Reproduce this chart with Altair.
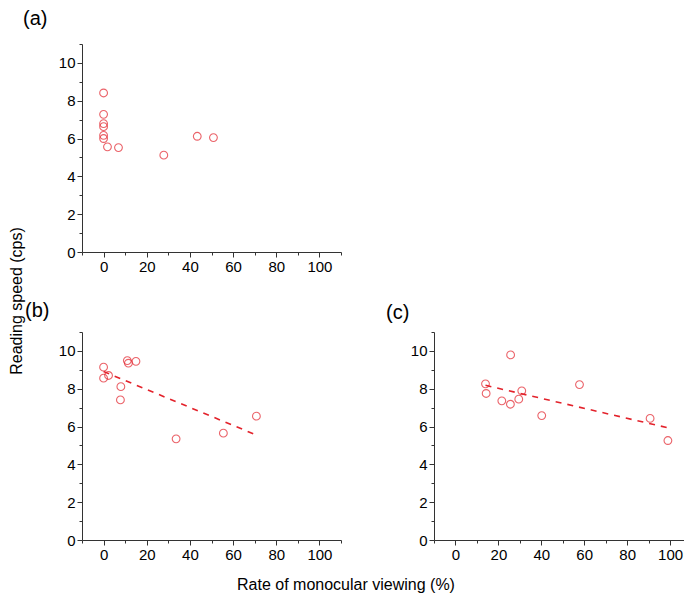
import altair as alt
import pandas as pd

RED = "#e3222b"
FONT = "Liberation Sans"

# Panel (a)
a_x = [0, 0, 0, 0, 0, 0, 1.8, 6.9, 27.9, 43.4, 50.9]
a_y = [8.41, 7.28, 6.79, 6.63, 6.17, 6.00, 5.56, 5.52, 5.12, 6.12, 6.05]
# Panel (b)
b_x = [0, 0, 2.3, 8.0, 7.8, 11.0, 11.5, 15.0, 33.6, 55.5, 70.8]
b_y = [9.14, 8.56, 8.70, 8.11, 7.41, 9.49, 9.35, 9.45, 5.35, 5.65, 6.55]
# Panel (c)
c_x = [14.0, 14.3, 25.7, 21.6, 25.6, 29.5, 30.9, 40.2, 57.8, 90.7, 99.0]
c_y = [8.26, 7.75, 9.79, 7.36, 7.18, 7.45, 7.89, 6.58, 8.22, 6.43, 5.26]

x_major = [0, 20, 40, 60, 80, 100]
x_minor = [-10, 10, 30, 50, 70, 90, 110]
y_major = [0, 2, 4, 6, 8, 10]
y_minor = [1, 3, 5, 7, 9, 11]

X_DOMAIN = [-10, 110]
X_DOMAIN_C = [-10, 106.5]
Y_DOMAIN = [0, 11]

Y_TITLE = "Reading speed (cps)"
X_TITLE = "Rate of monocular viewing (%)"


def panel(xs, ys, label, fit, width, xdom, extra=None):
    df = pd.DataFrame({"x": xs, "y": ys})
    base = alt.Chart(df)
    xs_ = alt.Scale(domain=xdom, nice=False, zero=False)
    ys_ = alt.Scale(domain=Y_DOMAIN, nice=False, zero=False)
    minors = [v for v in x_minor if xdom[0] <= v <= xdom[1]]
    minor = base.mark_point(opacity=0).encode(
        x=alt.X("x:Q", scale=xs_, axis=alt.Axis(values=minors, labels=False, tickSize=3,
                                                 domain=False, grid=False, title=None, orient="bottom")),
        y=alt.Y("y:Q", scale=ys_, axis=alt.Axis(values=y_minor, labels=False, tickSize=3,
                                                 domain=False, grid=False, title=None, orient="left")),
    )
    pts = base.mark_point(shape="circle", filled=False, size=60, strokeWidth=1.1, color=RED).encode(
        x=alt.X("x:Q", scale=xs_, axis=alt.Axis(values=x_major, title=None, grid=False, orient="bottom")),
        y=alt.Y("y:Q", scale=ys_, axis=alt.Axis(values=y_major, title=None, grid=False, orient="left")),
    )
    layers = [minor, pts]
    if fit:
        line = base.transform_regression("x", "y").mark_line(
            strokeDash=[6, 6], color=RED, strokeWidth=1.6
        ).encode(x=alt.X("x:Q", axis=None), y=alt.Y("y:Q", axis=None))
        layers.append(line)
    lab = alt.Chart(pd.DataFrame({"t": [label[0]]})).mark_text(
        font=FONT, fontSize=20, align="left", baseline="middle", color="black"
    ).encode(text="t:N", x=alt.value(label[1]), y=alt.value(label[2]))
    layers.append(lab)
    if extra:
        layers.extend(extra)
    return alt.layer(*layers).resolve_axis(x="independent", y="independent").properties(
        width=width, height=208
    )


ytitle = alt.Chart(pd.DataFrame({"t": [Y_TITLE]})).mark_text(
    font=FONT, fontSize=16, angle=270, align="center", baseline="middle", color="black"
).encode(text="t:N", x=alt.value(-65), y=alt.value(-31))
xtitle = alt.Chart(pd.DataFrame({"t": [X_TITLE]})).mark_text(
    font=FONT, fontSize=16, align="center", baseline="middle", color="black"
).encode(text="t:N", x=alt.value(264), y=alt.value(253))

pa = panel(a_x, a_y, ("(a)", -59, -25), False, 259, X_DOMAIN)
pb = panel(b_x, b_y, ("(b)", -57, -21), True, 259, X_DOMAIN, extra=[ytitle, xtitle])
pc = panel(c_x, c_y, ("(c)", -48, -19), True, 250, X_DOMAIN_C)

bottom = alt.hconcat(pb, pc, spacing=93, bounds="flush")
chart = alt.vconcat(pa, bottom, spacing=80, bounds="flush").properties(
    padding={"top": 1, "left": 0, "right": 0, "bottom": 0}
).configure_view(stroke=None).configure_axis(
    domainColor="#333333",
    tickColor="#333333",
    labelColor="black",
    labelFont=FONT,
    labelFontSize=15,
    tickSize=5,
    labelPadding=2,
)

chart.save("out.html", embed_options={"renderer": "svg", "actions": False})
